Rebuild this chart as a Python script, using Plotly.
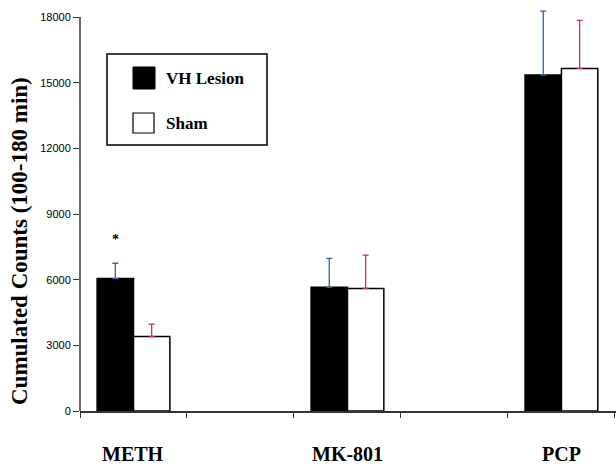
import plotly.graph_objects as go

categories = ["METH", "MK-801", "PCP"]
group_pos = [0.5, 2.5, 4.5]
vh_values = [6050, 5650, 15350]
vh_err = [700, 1320, 2920]
sham_values = [3400, 5600, 15650]
sham_err = [570, 1520, 2200]
y_ticks = [0, 3000, 6000, 9000, 12000, 15000, 18000]
y_ticktext = ["0", "3000", "6000", "9000", "12000", "15000", "18000"]
x_ticks = [0, 1, 2, 3, 4, 5]
sig_marks = ["*", "", ""]
sig_heights = [7850, None, None]

BW = 0.34
serif = "Liberation Serif"
Y_TOP = 18000
Y_MAX = 18000 * 401 / 394

fig = go.Figure()
fig.add_trace(go.Bar(
    x=group_pos, y=vh_values, width=BW, offset=-BW, name="VH Lesion",
    marker=dict(color="black", line=dict(color="black", width=1.5)),
    error_y=dict(type="data", array=vh_err, arrayminus=[0]*3, symmetric=False,
                 color="#3a5fa0", thickness=1.3, width=3),
    showlegend=False,
))
fig.add_trace(go.Bar(
    x=group_pos, y=sham_values, width=BW, offset=0, name="Sham",
    marker=dict(color="white", line=dict(color="black", width=1.5)),
    error_y=dict(type="data", array=sham_err, arrayminus=[0]*3, symmetric=False,
                 color="#c8334a", thickness=1.3, width=3),
    showlegend=False,
))

PW, PH, PB = 536, 401, 411
def px(x):
    return (x - 80) / PW
def py(y):
    return (PB - y) / PH

annotations = []
for cat, gx in zip(categories, group_pos):
    annotations.append(dict(x=gx, y=py(454), xref="x", yref="paper", text=f"<b>{cat}</b>",
                            showarrow=False, font=dict(family=serif, size=20, color="black"),
                            yanchor="middle"))
for mark, gx, h in zip(sig_marks, group_pos, sig_heights):
    if mark:
        annotations.append(dict(x=gx - BW / 2, y=h, xref="x", yref="y", text=f"<b>{mark}</b>",
                                showarrow=False, font=dict(family=serif, size=14, color="black")))

annotations.append(dict(x=px(19), y=py(241), xref="paper", yref="paper",
                        text="<b>Cumulated Counts (100-180 min)</b>", textangle=-90, showarrow=False,
                        xanchor="center", yanchor="middle",
                        font=dict(family=serif, size=23, color="black")))

shapes = [
    dict(type="line", xref="paper", yref="y", x0=0, x1=0, y0=0, y1=Y_TOP,
         line=dict(color="#333", width=1.5)),
    dict(type="rect", xref="paper", yref="paper", x0=px(107), x1=px(267),
         y0=py(145), y1=py(54), line=dict(color="black", width=1.5), fillcolor="white"),
    dict(type="rect", xref="paper", yref="paper", x0=px(133), x1=px(155),
         y0=py(89), y1=py(67), line=dict(color="black", width=1), fillcolor="black"),
    dict(type="rect", xref="paper", yref="paper", x0=px(133), x1=px(154),
         y0=py(133), y1=py(113), line=dict(color="black", width=1.2), fillcolor="white"),
]
annotations.append(dict(x=px(164), y=py(78), xref="paper", yref="paper", text="<b>VH Lesion</b>",
                        showarrow=False, xanchor="left", yanchor="middle",
                        font=dict(family=serif, size=17, color="black")))
annotations.append(dict(x=px(164), y=py(123), xref="paper", yref="paper", text="<b>Sham</b>",
                        showarrow=False, xanchor="left", yanchor="middle",
                        font=dict(family=serif, size=17, color="black")))

fig.update_layout(
    width=616, height=464,
    margin=dict(l=80, r=0, t=464 - 53 - 401, b=53),
    paper_bgcolor="white", plot_bgcolor="white",
    barmode="overlay",
    annotations=annotations,
    shapes=shapes,
    xaxis=dict(range=[0, 5.01], tickvals=x_ticks, showticklabels=False, ticks="outside",
               ticklen=5, tickcolor="#333", showline=True, linecolor="#333", linewidth=1.5,
               showgrid=False, zeroline=False, fixedrange=True),
    yaxis=dict(range=[0, Y_MAX], tickvals=y_ticks, ticktext=y_ticktext, ticks="outside",
               ticklen=6, tickcolor="#333", showline=False, showgrid=False, zeroline=False,
               tickfont=dict(family="Liberation Sans", size=11, color="black")),
)

fig.write_html("out.html", config={"displayModeBar": False},
               post_script="document.body.style.margin='0';")
